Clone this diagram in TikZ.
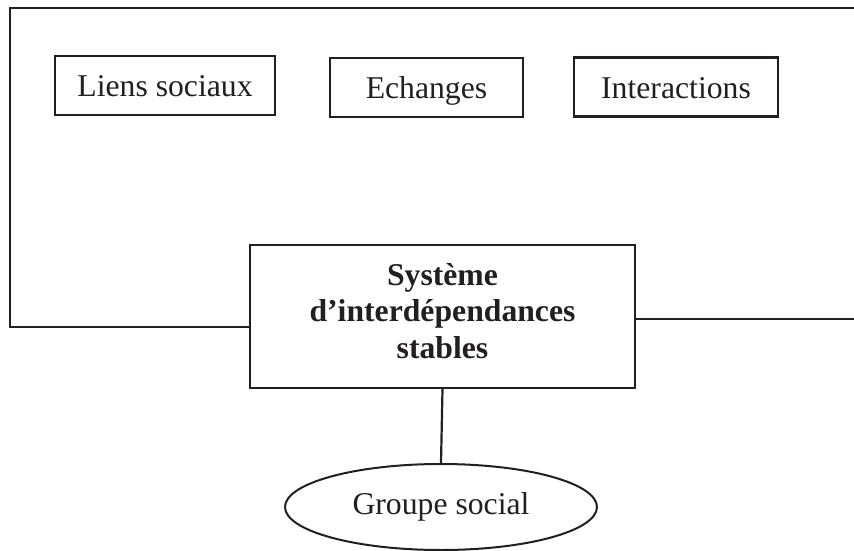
\documentclass[tikz,border=0pt]{standalone}
\usepackage{fontspec}
\setmainfont{Liberation Serif}
\usetikzlibrary{shapes.geometric}
\definecolor{ink}{RGB}{35,31,32}
\begin{document}
\begin{tikzpicture}[x=1pt,y=-1pt,
  every node/.style={font=\fontsize{31.7}{36.5}\selectfont, text=ink},
  wire/.style={draw=ink, line width=2.2pt},
  termbox/.style={draw=ink, line width=2.2pt, rectangle, inner sep=0pt,
    minimum height=59pt, text height=28.5pt, text depth=6.3pt},
  corebox/.style={draw=ink, line width=2.2pt, rectangle, inner sep=0pt,
    minimum width=385pt, minimum height=143pt, align=center,
    font=\fontsize{31.7}{36.5}\selectfont\bfseries, text depth=12pt},
  groupshape/.style={draw=ink, line width=2pt, ellipse, inner sep=0pt,
    minimum width=312pt, minimum height=86pt}]
  \useasboundingbox (0,0) rectangle (854,551);

  % three terms at the top
  \node[termbox, minimum width=220pt] (liens) at (165,85.5) {Liens sociaux};
  \node[termbox, minimum width=193pt] (echanges) at (426.5,87.5) {Echanges};
  \node[termbox, minimum width=204pt] (inter) at (676,87) {Interactions};

  % central system
  \node[corebox] (sys) at (442.5,316.5) {Système\\d’interdépendances\\stables};

  % social group
  \node[groupshape] (grp) at (441,507) {Groupe social};

  % frame running from the central box around the terms
  \coordinate (topright) at (854,8);
  \coordinate (topleft) at (10,8);
  \coordinate (lowleft) at (10,327);
  \coordinate (rightend) at (854,319);
  \draw[wire] (topright) -- (topleft) -- (lowleft) -- (lowleft -| sys.west);
  \draw[wire] (rightend -| sys.east) -- (rightend);
  \draw[wire] (sys.south) -- (grp.north);
\end{tikzpicture}
\end{document}
